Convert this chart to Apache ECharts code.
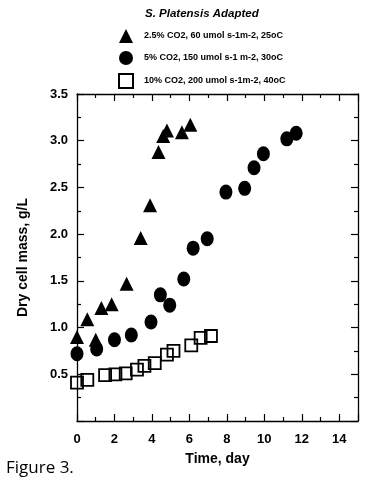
<!DOCTYPE html>
<html>
<head>
<meta charset="utf-8">
<script src="https://cdn.jsdelivr.net/npm/echarts@6/dist/echarts.min.js"></script>
<style>
  html, body { margin: 0; padding: 0; background: #fff; }
  #chart { width: 368px; height: 489px; }
</style>
</head>
<body>
<div id="chart"></div>
<script>
const seriesNames = [
  '2.5% CO2, 60 umol s-1m-2, 25oC',
  '5% CO2, 150 umol s-1 m-2, 30oC',
  '10% CO2, 200 umol s-1m-2, 40oC',
]

const triDays = [0, 0.55, 1.0, 1.3, 1.85, 2.65, 3.4, 3.9, 4.35, 4.6, 4.8, 5.6, 6.05]
const triVals = [0.90, 1.09, 0.87, 1.21, 1.25, 1.47, 1.96, 2.31, 2.88, 3.05, 3.11, 3.09, 3.17]

const circDays = [0, 1.05, 2.0, 2.9, 3.95, 4.45, 4.95, 5.7, 6.2, 6.95, 7.95, 8.95, 9.45, 9.95, 11.2, 11.7]
const circVals = [0.72, 0.77, 0.87, 0.92, 1.06, 1.35, 1.24, 1.52, 1.85, 1.95, 2.45, 2.49, 2.71, 2.86, 3.02, 3.08]

const sqDays = [0, 0.55, 1.5, 2.05, 2.6, 3.2, 3.6, 4.15, 4.8, 5.15, 6.1, 6.6, 7.15]
const sqVals = [0.41, 0.44, 0.49, 0.50, 0.51, 0.55, 0.59, 0.62, 0.71, 0.75, 0.81, 0.89, 0.91]

const xTicks = [0, 2, 4, 6, 8, 10, 12, 14]
const yTicks = [0.5, 1.0, 1.5, 2.0, 2.5, 3.0, 3.5]

const pair = (xs, ys) => xs.map((x, i) => [x, ys[i]])

const axisFont = "'Liberation Sans', Arial, sans-serif"
const frame = { show: true, onZero: false, lineStyle: { color: '#000', width: 1.3 } }

const xBase = (pos, labels) => ({
  type: 'value',
  position: pos,
  min: 0,
  max: 15,
  interval: 2,
  axisLine: frame,
  axisTick: { show: true, inside: true, length: 7, lineStyle: { color: '#000', width: 1.2 } },
  minorTick: { show: true, splitNumber: 2, length: 4, lineStyle: { color: '#000', width: 1.2 } },
  splitLine: { show: false },
  axisLabel: {
    show: labels,
    margin: 12,
    color: '#000',
    fontSize: 13,
    fontWeight: 'bold',
    fontFamily: axisFont,
    formatter: (v) => (xTicks.includes(v) ? String(v) : ''),
  },
})

const yBase = (pos, labels) => ({
  type: 'value',
  position: pos,
  min: 0,
  max: 3.5,
  interval: 0.5,
  axisLine: frame,
  axisTick: { show: true, inside: true, length: 7, lineStyle: { color: '#000', width: 1.2 } },
  minorTick: { show: true, splitNumber: 2, length: 4, lineStyle: { color: '#000', width: 1.2 } },
  splitLine: { show: false },
  axisLabel: {
    show: labels,
    margin: 9,
    color: '#000',
    fontSize: 13,
    fontWeight: 'bold',
    fontFamily: axisFont,
    formatter: (v) => {
      const t = yTicks.find((k) => Math.abs(k - v) < 1e-6)
      return t === undefined ? '' : t.toFixed(1)
    },
  },
})

const chart = echarts.init(document.getElementById('chart'))
chart.setOption({
  animation: false,
  backgroundColor: '#fff',
  title: {
    text: 'S. Platensis Adapted',
    left: 140,
    top: 3,
    textStyle: { color: '#000', fontSize: 11.5, fontWeight: 'bold', fontStyle: 'italic', fontFamily: axisFont },
  },
  legend: {
    orient: 'vertical',
    left: 113,
    top: 24,
    itemWidth: 14,
    itemHeight: 14,
    itemGap: 8,
    textStyle: { color: '#000', fontSize: 9, fontWeight: 'bold', fontFamily: axisFont, padding: [0, 0, 0, 6] },
    data: seriesNames,
  },
  grid: { left: 77, right: 10, top: 94, bottom: 68 },
  xAxis: [
    {
      ...xBase('bottom', true),
      name: 'Time, day',
      nameLocation: 'middle',
      nameGap: 31,
      nameTextStyle: { color: '#000', fontSize: 14, fontWeight: 'bold', fontFamily: axisFont },
    },
    xBase('top', false),
  ],
  yAxis: [
    {
      ...yBase('left', true),
      name: 'Dry cell mass, g/L',
      nameLocation: 'middle',
      nameGap: 47,
      nameTextStyle: { color: '#000', fontSize: 14, fontWeight: 'bold', fontFamily: axisFont },
    },
    yBase('right', false),
  ],
  graphic: [
    {
      type: 'text',
      left: 6,
      top: 460,
      style: { text: 'Figure 3.', fill: '#000', fontSize: 17, fontFamily: "'Open Sans', 'Noto Sans', sans-serif" },
    },
  ],
  series: [
    {
      name: seriesNames[0],
      type: 'scatter',
      symbol: 'triangle',
      symbolSize: 14,
      itemStyle: { color: '#000', opacity: 1 },
      data: pair(triDays, triVals),
    },
    {
      name: seriesNames[1],
      type: 'scatter',
      symbol: 'circle',
      symbolSize: [13, 15],
      itemStyle: { color: '#000', opacity: 1 },
      data: pair(circDays, circVals),
    },
    {
      name: seriesNames[2],
      type: 'scatter',
      symbol: 'rect',
      symbolSize: 12,
      itemStyle: { color: 'rgba(0,0,0,0)', borderColor: '#000', borderWidth: 1.8, opacity: 1 },
      data: pair(sqDays, sqVals),
    },
  ],
})
</script>
</body>
</html>
